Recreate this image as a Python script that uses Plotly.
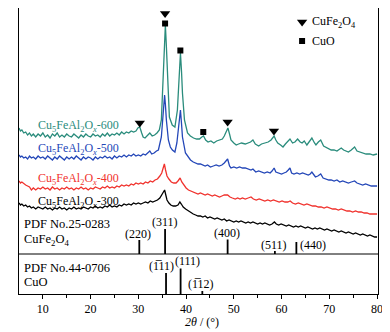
import plotly.graph_objects as go

# ---- data (2theta in degrees, intensity in a.u. as displayed/stacked) ----
teal_pts = [(5.0,166),(5.3,163),(5.6,164),(6.0,161),(6.4,162),(6.8,159),(7.2,161),(7.6,158),(8.0,160),(8.5,157),(9.0,160),(9.5,158),(10.0,161),(10.5,157),(11.0,159),(11.5,156),(12.0,160),(12.5,158),(13.0,161),(13.5,157),(14.0,159),(14.5,157),(15.0,160),(15.5,158),(16.0,157),(16.5,160),(17.0,158),(17.5,156),(18.0,159),(18.5,157),(19.0,160),(19.5,158),(20.0,157),(20.5,160),(21.0,158),(21.5,159),(22.0,157),(22.5,160),(23.0,158),(23.5,161),(24.0,158),(24.5,160),(25.0,159),(25.5,161),(26.0,159),(26.5,162),(27.0,160),(27.5,162),(28.0,161),(28.5,163),(29.0,162),(29.5,163),(29.9,166),(30.3,167),(30.7,161),(31.0,157),(31.4,156),(31.9,159),(32.4,161),(32.9,158),(33.4,159),(33.9,161),(34.4,164),(34.82,174),(35.24,217),(35.5,255),(35.66,269),(35.85,250),(36.08,217),(36.5,177),(37.1,169),(37.66,167),(38.18,184),(38.55,222),(38.82,241),(39.05,222),(39.24,201),(39.66,174),(40.3,161),(40.9,158),(41.56,156),(42.2,155),(42.8,155),(43.3,157),(43.65,158),(44.1,154),(44.6,152),(45.2,153),(45.8,151),(46.4,153),(47.1,154),(47.6,155),(48.0,158),(48.4,163),(48.76,166),(49.1,160),(49.4,154),(50.0,151),(50.5,149),(51.0,150),(51.6,151),(52.4,150),(53.0,151),(53.5,152),(54.0,154),(54.5,150),(55.2,148),(55.8,150),(56.5,151),(57.2,152),(57.8,154),(58.44,158),(58.8,154),(59.2,151),(59.8,149),(60.3,147),(60.8,150),(61.3,153),(61.76,155),(62.3,151),(62.8,152),(63.36,155),(63.9,152),(64.3,151),(64.75,153),(65.3,149),(65.8,152),(66.35,156),(66.9,151),(67.2,149),(67.7,152),(68.2,154),(68.8,148),(69.5,146),(70.4,144),(71.0,144),(71.6,143),(72.2,145),(72.5,146),(73.0,144),(73.5,143),(74.0,142),(74.6,144),(75.3,147),(75.8,143),(76.3,142),(77.0,141),(77.7,140),(78.5,140),(79.2,139),(80.0,140)]

blue_pts = [(5.0,139),(5.3,137),(5.6,138),(6.0,136),(6.4,137),(6.8,135),(7.2,138),(7.6,136),(8.0,137),(8.5,135),(9.0,138),(9.5,136),(10.0,137),(10.5,135),(11.0,138),(11.5,136),(12.0,134),(12.5,137),(13.0,135),(13.5,138),(14.0,136),(14.5,134),(15.0,137),(15.5,135),(16.0,137),(16.5,135),(17.0,138),(17.5,136),(18.0,134),(18.5,137),(19.0,135),(19.5,137),(20.0,136),(20.5,134),(21.0,137),(21.5,135),(22.0,137),(22.5,136),(23.0,138),(23.5,136),(24.0,137),(24.5,135),(25.0,138),(25.5,136),(26.0,138),(26.5,137),(27.0,139),(27.5,137),(28.0,139),(28.5,138),(29.0,140),(29.5,138),(30.0,139),(30.5,138),(31.0,140),(31.5,139),(32.0,141),(32.4,143),(32.8,140),(33.3,141),(33.8,143),(34.2,144),(34.82,157),(35.24,184),(35.5,199),(35.66,190),(35.87,174),(36.29,154),(36.7,147),(37.13,144),(37.66,142),(38.07,151),(38.5,172),(38.82,184),(39.05,170),(39.24,157),(39.87,141),(40.4,137),(40.92,134),(41.5,132),(42.0,131),(42.5,130),(43.0,130),(43.5,129),(44.0,128),(44.5,129),(45.1,127),(45.7,128),(46.3,129),(46.9,128),(47.5,129),(48.0,131),(48.4,134),(48.7,135),(49.1,128),(49.4,126),(50.0,127),(50.6,126),(51.2,127),(51.8,126),(52.4,126),(53.0,125),(53.6,124),(54.0,125),(54.6,122),(55.2,123),(55.8,122),(56.4,121),(57.0,122),(57.6,121),(58.0,123),(58.44,126),(58.8,122),(59.4,121),(60.0,120),(60.5,121),(61.0,122),(61.4,124),(61.76,126),(62.1,121),(62.6,120),(63.2,121),(63.8,120),(64.4,121),(65.0,120),(65.6,119),(66.0,120),(66.35,122),(66.8,119),(67.1,117),(67.6,118),(68.2,120),(68.7,116),(69.3,115),(69.9,114),(70.4,114),(71.0,113),(71.6,114),(72.2,112),(72.8,113),(73.4,112),(74.0,111),(74.6,112),(75.3,113),(75.8,111),(76.4,110),(77.0,109),(77.6,110),(78.2,109),(78.8,108),(79.4,108),(80.0,108)]

red_pts = [(5.0,113),(5.3,111),(5.6,112),(6.0,110),(6.4,109),(6.8,108),(7.2,107),(7.6,104),(8.0,106),(8.5,104),(9.0,106),(9.5,105),(10.0,107),(10.5,105),(11.0,106),(11.5,104),(12.0,107),(12.5,105),(13.0,106),(13.5,104),(14.0,106),(14.5,105),(15.0,107),(15.5,105),(16.0,106),(16.5,104),(17.0,106),(17.5,105),(18.0,107),(18.5,105),(19.0,106),(19.5,104),(20.0,106),(20.5,105),(21.0,107),(21.5,106),(22.0,105),(22.5,107),(23.0,106),(23.5,108),(24.0,106),(24.5,107),(25.0,106),(25.5,108),(26.0,107),(26.5,109),(27.0,108),(27.5,109),(28.0,108),(28.5,110),(29.0,109),(29.5,111),(30.0,110),(30.5,111),(31.0,110),(31.5,112),(32.0,111),(32.5,113),(33.0,112),(33.5,114),(34.0,115),(34.5,118),(34.9,121),(35.2,126),(35.45,130),(35.7,124),(36.0,118),(36.4,115),(36.9,112),(37.4,111),(37.9,111),(38.3,113),(38.75,116),(39.1,112),(39.5,109),(40.0,106),(40.5,104),(41.0,103),(41.5,102),(42.0,101),(42.5,100),(43.0,101),(43.5,100),(44.0,99),(44.5,100),(45.0,99),(45.5,98),(46.0,99),(46.5,98),(47.0,97),(47.5,98),(48.0,99),(48.7,99),(49.2,97),(49.7,96),(50.3,95),(50.8,96),(51.3,95),(51.8,96),(52.4,95),(53.0,96),(53.6,97),(54.1,95),(54.7,94),(55.3,95),(55.9,94),(56.5,93),(57.1,94),(57.7,93),(58.3,94),(58.9,93),(59.5,92),(60.1,93),(60.7,92),(61.3,92),(61.8,93),(62.3,91),(62.9,90),(63.5,91),(64.1,90),(64.7,89),(65.3,90),(65.9,89),(66.5,88),(67.1,88),(67.7,87),(68.3,87),(68.9,86),(69.5,87),(70.1,86),(70.7,85),(71.3,85),(71.9,84),(72.5,85),(73.1,84),(73.7,83),(74.3,83),(74.9,82),(75.5,83),(76.1,82),(76.7,82),(77.3,81),(77.9,81),(78.5,80),(79.1,80),(79.6,80),(80.0,80)]

black_pts = [(5.0,91),(5.3,89),(5.6,90),(6.0,88),(6.4,89),(6.8,87),(7.2,88),(7.6,86),(8.0,87),(8.5,85),(9.0,87),(9.5,86),(10.0,85),(10.5,87),(11.0,85),(11.5,86),(12.0,84),(12.5,86),(13.0,85),(13.5,87),(14.0,85),(14.5,86),(15.0,84),(15.5,86),(16.0,85),(16.5,87),(17.0,85),(17.5,86),(18.0,85),(18.5,87),(19.0,86),(19.5,85),(20.0,87),(20.5,86),(21.0,88),(21.5,86),(22.0,87),(22.5,86),(23.0,88),(23.5,87),(24.0,89),(24.5,87),(25.0,88),(25.5,87),(26.0,89),(26.5,88),(27.0,90),(27.5,89),(28.0,90),(28.5,89),(29.0,91),(29.5,90),(30.0,91),(30.5,90),(31.0,91),(31.5,92),(32.0,91),(32.5,93),(33.0,92),(33.5,93),(34.0,94),(34.5,96),(34.9,99),(35.2,102),(35.5,104),(35.75,99),(36.0,94),(36.4,91),(36.8,89),(37.3,88),(37.8,88),(38.3,89),(38.7,92),(39.0,90),(39.4,87),(39.9,85),(40.5,83),(41.0,81),(41.5,80),(42.0,79),(42.5,78),(43.0,78),(43.5,77),(44.0,78),(44.5,76),(45.0,77),(45.5,76),(46.0,75),(46.5,76),(47.0,75),(47.5,74),(48.0,75),(48.5,73),(49.0,74),(49.5,73),(50.0,72),(50.5,73),(51.0,72),(51.5,73),(52.0,72),(52.5,71),(53.0,72),(53.5,71),(54.0,72),(54.5,71),(55.0,70),(55.5,71),(56.0,70),(56.5,71),(57.0,70),(57.5,69),(58.0,70),(58.5,72),(58.9,70),(59.4,69),(59.9,70),(60.4,69),(61.0,68),(61.5,69),(62.0,68),(62.5,67),(63.0,68),(63.5,67),(64.0,68),(64.5,67),(65.0,66),(65.5,67),(66.0,66),(66.5,65),(67.0,66),(67.5,65),(68.0,66),(68.5,65),(69.0,64),(69.5,65),(70.0,64),(70.5,63),(71.0,64),(71.5,63),(72.0,62),(72.5,63),(73.0,62),(73.5,61),(74.0,62),(74.5,61),(75.0,60),(75.5,61),(76.0,60),(76.5,59),(77.0,60),(77.5,59),(78.0,58),(78.5,59),(79.0,58),(79.5,57),(80.0,57)]

series_names = ["600", "500", "400", "300"]
series_colors = ["#2a8c7c", "#2447b8", "#f0322d", "#000000"]
series_pts = [teal_pts, blue_pts, red_pts, black_pts]
label_y = [168.5, 145, 115, 92.5]

# reference sticks
cufe_pos = [30.2, 35.6, 48.7, 58.6, 63.1]
cufe_top = [54, 65, 54.5, 43, 52]
cufe_hkl = ["(220)", "(311)", "(400)", "(511)", "(440)"]
cufe_lab_x = [30.0, 35.5, 48.6, 58.5, 63.5]
cufe_lab_anchor = ["center", "center", "center", "center", "left"]
cufe_lab_y = [60, 72, 61, 49, 49]
cufe_base = 40

cuo_pos = [35.8, 38.85, 43.4]
cuo_top = [21, 25.5, 3]
cuo_hkl = ["(1\u030511)", "(111)", "(1\u030512)"]
cuo_lab_x = [34.9, 40.2, 43.2]
cuo_lab_y = [28, 33, 10]

tri_x = [30.3, 35.6, 48.7, 58.4]
tri_y = [171, 280.5, 172, 163]
sq_x = [35.6, 38.8, 43.6]
sq_y = [270.5, 243.5, 162]

xticks = [10, 20, 30, 40, 50, 60, 70, 80]
FONT = "Liberation Serif, Times New Roman, serif"

fig = go.Figure()
for pts, col in zip(series_pts, series_colors):
    xs = [p[0] for p in pts]
    ys = [p[1] for p in pts]
    fig.add_trace(go.Scatter(x=xs, y=ys, mode="lines",
                             line=dict(color=col, width=1.3), showlegend=False))

# sticks
for x, t in zip(cufe_pos, cufe_top):
    fig.add_trace(go.Scatter(x=[x, x], y=[cufe_base, t], mode="lines",
                             line=dict(color="black", width=1.8), showlegend=False))
for x, t in zip(cuo_pos, cuo_top):
    fig.add_trace(go.Scatter(x=[x, x], y=[0, t], mode="lines",
                             line=dict(color="black", width=1.8), showlegend=False))

# phase markers
fig.add_trace(go.Scatter(x=tri_x, y=tri_y, mode="markers",
                         marker=dict(symbol="triangle-down", size=9, color="black"), showlegend=False))
fig.add_trace(go.Scatter(x=sq_x, y=sq_y, mode="markers",
                         marker=dict(symbol="square", size=6, color="black"), showlegend=False))
# key
fig.add_trace(go.Scatter(x=[64.3], y=[272], mode="markers",
                         marker=dict(symbol="triangle-down", size=9, color="black"), showlegend=False))
fig.add_trace(go.Scatter(x=[64.3], y=[253], mode="markers",
                         marker=dict(symbol="square", size=6, color="black"), showlegend=False))

ann = []
def A(x, y, text, color="black", xanchor="center", size=12):
    ann.append(dict(x=x, y=y, xref="x", yref="y", text=text, showarrow=False,
                    xanchor=xanchor, yanchor="middle",
                    font=dict(family=FONT, size=size, color=color)))

A(66.0, 272, "CuFe<sub>2</sub>O<sub>4</sub>", xanchor="left")
A(66.0, 253, "CuO", xanchor="left")
for nm, col, ly in zip(series_names, series_colors, label_y):
    A(8.6, ly, "Cu<sub>5</sub>FeAl<sub>2</sub>O<sub><i>x</i></sub>-" + nm, color=col, xanchor="left")
A(5.6, 70, "PDF No.25-0283", xanchor="left", size=12.5)
A(5.6, 54.5, "CuFe<sub>2</sub>O<sub>4</sub>", xanchor="left", size=12.5)
A(5.6, 26, "PDF No.44-0706", xanchor="left", size=12.5)
A(5.6, 12, "CuO", xanchor="left", size=12.5)
for x, y, t, an in zip(cufe_lab_x, cufe_lab_y, cufe_hkl, cufe_lab_anchor):
    A(x, y, t, xanchor=an)
for x, y, t in zip(cuo_lab_x, cuo_lab_y, cuo_hkl):
    A(x, y, t)
ann.append(dict(x=0.51, y=-0.097, xref="paper", yref="paper", showarrow=False,
                text="<i>2θ</i> / (°)", xanchor="center", yanchor="middle",
                font=dict(family=FONT, size=12, color="black")))

# page body has an 8px margin: figure occupies 382x324 starting at (8, 8)
fig.update_layout(
    width=382, height=324,
    margin=dict(l=11, r=12, t=0, b=38),
    paper_bgcolor="white", plot_bgcolor="white",
    annotations=ann,
    shapes=[dict(type="line", xref="paper", yref="y", x0=0, x1=1, y0=cufe_base, y1=cufe_base,
                 line=dict(color="black", width=1))],
)
fig.update_xaxes(range=[5, 80.2], tickvals=xticks, ticks="outside", ticklen=4, tickwidth=1,
                 tickcolor="black", showgrid=False, zeroline=False, showline=True,
                 linecolor="black", linewidth=1, mirror=True,
                 tickfont=dict(family=FONT, size=12, color="black"),
                 minor=dict(tickvals=[15, 25, 35, 45, 55, 65, 75], ticks="outside",
                            ticklen=3, tickcolor="black", showgrid=False))
fig.update_yaxes(range=[0, 286], showticklabels=False, ticks="", showgrid=False,
                 zeroline=False, showline=True, linecolor="black", linewidth=1, mirror=True)

fig.write_html("out.html")
